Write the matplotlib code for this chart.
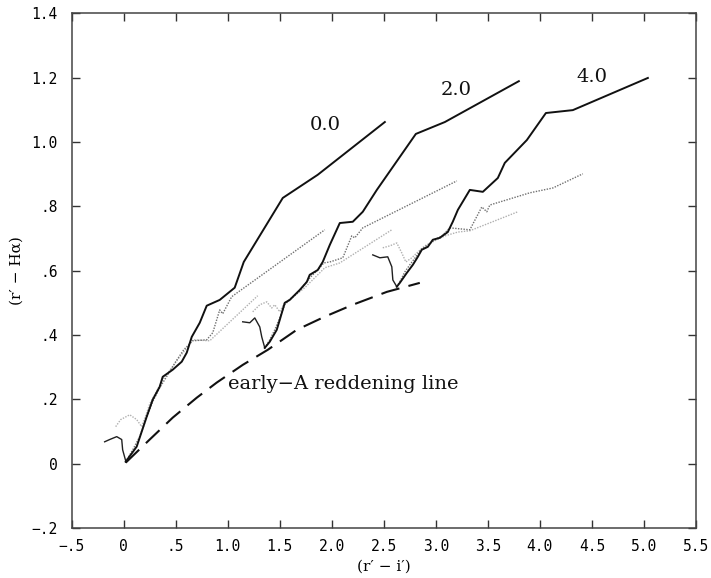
import numpy as np
import matplotlib.pyplot as plt
plt.switch_backend('agg')

# ---- data (x = r'-i', y = r'-Halpha)
# E = 0.0
solid0_x = [0.019, 0.125, 0.221, 0.279, 0.346, 0.375, 0.471, 0.558, 0.606, 0.654, 0.731, 0.798, 0.923, 1.067, 1.154, 1.529, 1.865, 2.51]
solid0_y = [0.006, 0.053, 0.146, 0.199, 0.239, 0.270, 0.292, 0.317, 0.345, 0.394, 0.438, 0.491, 0.509, 0.547, 0.627, 0.826, 0.898, 1.062]
mid0_x = [0.019, 0.087, 0.154, 0.221, 0.279, 0.346, 0.423, 0.500, 0.577, 0.663, 0.798, 0.856, 0.923, 0.952, 1.038, 1.933]
mid0_y = [0.006, 0.043, 0.084, 0.143, 0.193, 0.236, 0.276, 0.317, 0.354, 0.382, 0.385, 0.407, 0.478, 0.466, 0.519, 0.727]
light0_x = [-0.077, -0.029, 0.058, 0.125, 0.173, 0.212, 0.250, 0.308, 0.375, 0.462, 0.538, 0.615, 0.663, 0.827, 1.288]
light0_y = [0.115, 0.137, 0.152, 0.137, 0.115, 0.149, 0.186, 0.220, 0.261, 0.298, 0.332, 0.363, 0.385, 0.382, 0.522]
dark0_x = [-0.183, -0.135, -0.067, -0.019, -0.010, 0.019]
dark0_y = [0.068, 0.075, 0.084, 0.075, 0.043, 0.009]

# E = 2.0
solid2_x = [1.356, 1.404, 1.471, 1.500, 1.548, 1.596, 1.692, 1.760, 1.788, 1.865, 1.913, 1.981, 2.077, 2.202, 2.298, 2.433, 2.808, 3.087, 3.798]
solid2_y = [0.360, 0.379, 0.416, 0.447, 0.500, 0.509, 0.540, 0.565, 0.587, 0.602, 0.627, 0.680, 0.748, 0.752, 0.783, 0.851, 1.025, 1.062, 1.189]
mid2_x = [1.356, 1.404, 1.452, 1.500, 1.548, 1.615, 1.692, 1.750, 1.808, 1.865, 1.923, 1.981, 2.106, 2.192, 2.221, 2.298, 3.202]
mid2_y = [0.360, 0.385, 0.416, 0.453, 0.494, 0.516, 0.537, 0.562, 0.584, 0.602, 0.624, 0.627, 0.640, 0.708, 0.702, 0.733, 0.879]
light2_x = [1.240, 1.308, 1.375, 1.423, 1.452, 1.500, 1.548, 1.644, 1.740, 1.837, 1.933, 2.077, 2.577]
light2_y = [0.472, 0.494, 0.503, 0.484, 0.494, 0.472, 0.500, 0.522, 0.547, 0.578, 0.609, 0.624, 0.727]
dark2_x = [1.144, 1.212, 1.260, 1.308, 1.327, 1.356]
dark2_y = [0.441, 0.438, 0.453, 0.425, 0.394, 0.360]

# E = 4.0
solid4_x = [2.625, 2.654, 2.721, 2.779, 2.827, 2.865, 2.923, 2.971, 3.038, 3.115, 3.163, 3.212, 3.327, 3.452, 3.596, 3.663, 3.875, 4.058, 4.317, 5.038]
solid4_y = [0.550, 0.562, 0.593, 0.618, 0.643, 0.665, 0.674, 0.696, 0.702, 0.720, 0.752, 0.789, 0.851, 0.845, 0.888, 0.935, 1.006, 1.090, 1.099, 1.199]
mid4_x = [2.625, 2.663, 2.702, 2.750, 2.808, 2.856, 2.923, 2.990, 3.058, 3.135, 3.327, 3.442, 3.490, 3.519, 3.904, 4.125, 4.413]
mid4_y = [0.550, 0.571, 0.596, 0.618, 0.643, 0.665, 0.680, 0.696, 0.708, 0.733, 0.727, 0.798, 0.783, 0.804, 0.842, 0.857, 0.901]
light4_x = [2.490, 2.558, 2.625, 2.673, 2.712, 2.769, 2.827, 2.894, 2.990, 3.087, 3.212, 3.327, 3.788]
light4_y = [0.671, 0.677, 0.686, 0.655, 0.627, 0.640, 0.658, 0.677, 0.693, 0.708, 0.720, 0.724, 0.783]
dark4_x = [2.394, 2.462, 2.538, 2.577, 2.587, 2.625]
dark4_y = [0.649, 0.640, 0.643, 0.612, 0.571, 0.550]

# early-A reddening line
redd_x = [0.019, 0.250, 0.471, 0.702, 0.894, 1.144, 1.385, 1.663, 1.933, 2.202, 2.529, 2.846]
redd_y = [0.003, 0.075, 0.143, 0.205, 0.252, 0.307, 0.354, 0.416, 0.457, 0.494, 0.534, 0.562]

curve_labels = ['0.0', '2.0', '4.0']
label_x = [1.94, 3.20, 4.50]
label_y = [1.053, 1.161, 1.201]

xticks = [-0.5, 0, 0.5, 1.0, 1.5, 2.0, 2.5, 3.0, 3.5, 4.0, 4.5, 5.0, 5.5]
xticklabels = ['\u2212.5', '0', '.5', '1.0', '1.5', '2.0', '2.5', '3.0', '3.5', '4.0', '4.5', '5.0', '5.5']
yticks = [-0.2, 0, 0.2, 0.4, 0.6, 0.8, 1.0, 1.2, 1.4]
yticklabels = ['\u2212.2', '0', '.2', '.4', '.6', '.8', '1.0', '1.2', '1.4']

fig = plt.figure(figsize=(7.11, 5.78), dpi=100)
ax = fig.add_axes([0.1008, 0.0865, 0.878, 0.8905])

dot = (0, (1, 1))
for lx, ly in [(light0_x, light0_y), (light2_x, light2_y), (light4_x, light4_y)]:
    ax.plot(lx, ly, color='#b0b0b0', lw=1.0, ls=dot)
for mx, my in [(mid0_x, mid0_y), (mid2_x, mid2_y), (mid4_x, mid4_y)]:
    ax.plot(mx, my, color='#707070', lw=1.0, ls=dot)
for dx, dy in [(dark0_x, dark0_y), (dark2_x, dark2_y), (dark4_x, dark4_y)]:
    ax.plot(dx, dy, color='#202020', lw=1.0)
for sx, sy in [(solid0_x, solid0_y), (solid2_x, solid2_y), (solid4_x, solid4_y)]:
    ax.plot(sx, sy, color='#111111', lw=1.4)

ax.plot(redd_x, redd_y, color='#111111', lw=1.5, ls=(0, (9, 4.5)))

for t, tx, ty in zip(curve_labels, label_x, label_y):
    ax.text(tx, ty, t, fontsize=14, family='DejaVu Serif', ha='center', va='center', color='#111111')
ax.text(1.0, 0.248, 'early\u2212A reddening line', fontsize=14, family='DejaVu Serif',
        ha='left', va='center', color='#111111')

ax.set_xlim(-0.5, 5.5)
ax.set_ylim(-0.2, 1.4)
ax.set_xticks(xticks)
ax.set_xticklabels(xticklabels)
ax.set_yticks(yticks)
ax.set_yticklabels(yticklabels)
ax.tick_params(direction='in', length=6, width=1, top=True, right=True, color='#333333')
ax.tick_params(axis='x', pad=8)
ax.tick_params(axis='y', pad=10)
for lab in ax.get_xticklabels() + ax.get_yticklabels():
    lab.set_family('DejaVu Sans Mono')
    lab.set_fontsize(10.5)
for sp in ax.spines.values():
    sp.set_color('#444444')
    sp.set_linewidth(1.1)

ax.set_xlabel('(r\u2032 \u2212 i\u2032)', family='DejaVu Serif', fontsize=11, labelpad=4)
ax.set_ylabel('(r\u2032 \u2212 H\u03b1)', family='DejaVu Serif', fontsize=11, labelpad=6)

fig.savefig('out.png', dpi=100)
